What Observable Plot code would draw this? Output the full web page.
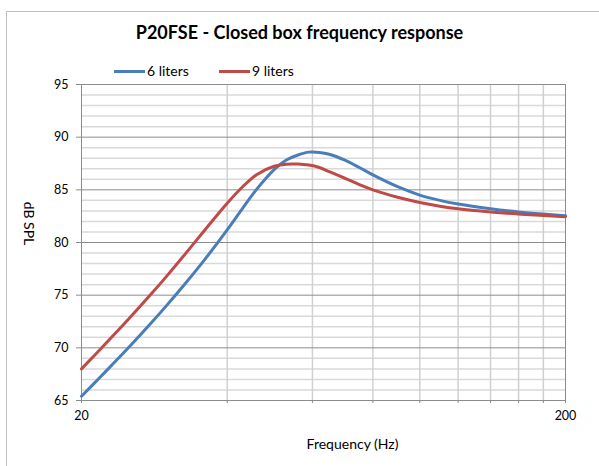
<!DOCTYPE html>
<html>
<head>
<meta charset="utf-8">
<script src="https://cdn.jsdelivr.net/npm/d3@7"></script>
<script src="https://cdn.jsdelivr.net/npm/@observablehq/plot@0.6"></script>
<style>
  html, body { margin: 0; padding: 0; background: #fff; }
  #wrap { position: relative; width: 599px; height: 466px; overflow: hidden; font-family: Lato, "Open Sans", sans-serif; }
  #border { position: absolute; left: 6px; top: 11px; width: 800px; height: 800px; border: 1px solid #bfbfbf; box-sizing: border-box; }
  #title { position: absolute; left: 0; width: 599px; top: 20px; text-align: center; font-weight: bold; font-size: 18px; line-height: 24px; color: #000; }
  .leg { position: absolute; top: 62px; font-size: 14px; line-height: 18px; color: #000; display: flex; align-items: center; }
  .leg span.sw { display: inline-block; width: 31px; height: 3px; margin-right: 2px; }
  #chart { position: absolute; left: 0; top: 0; }
</style>
</head>
<body>
<div id="wrap">
  <div id="border"></div>
  <div id="chart"></div>
  <div id="title">P20FSE - Closed box frequency response</div>
  <div class="leg" style="left:114px"><span class="sw" style="background:#4A7EBB"></span>6 liters</div>
  <div class="leg" style="left:219px"><span class="sw" style="background:#BE4B48"></span>9 liters</div>
</div>
<script>
const freqs = [20, 22, 25, 28, 30, 33, 36, 40, 43, 46, 50, 53, 56, 59, 62, 65, 70, 75, 80, 90, 100, 110, 120, 140, 160, 180, 200];
const liters6 = [65.4, 67.35, 70.0, 72.47, 74.03, 76.27, 78.42, 81.2, 83.22, 85.04, 86.92, 87.83, 88.31, 88.58, 88.55, 88.38, 87.82, 87.12, 86.42, 85.3, 84.5, 84.0, 83.65, 83.2, 82.9, 82.7, 82.55];
const liters9 = [68.0, 69.99, 72.71, 75.22, 76.81, 79.09, 81.21, 83.73, 85.27, 86.44, 87.24, 87.44, 87.45, 87.35, 87.12, 86.72, 86.1, 85.5, 85.0, 84.3, 83.8, 83.45, 83.2, 82.9, 82.7, 82.57, 82.45];
const seriesNames = ["6 liters", "9 liters"];
const seriesColors = ["#4A7EBB", "#BE4B48"];
const yMajor = [65, 70, 75, 80, 85, 90, 95];
const yMinor = d3.range(66, 95).filter(v => v % 5 !== 0);
const xGrid = [40, 60, 80, 100, 120, 140, 160, 180];
const xTicks = [20, 40, 60, 80, 100, 120, 140, 160, 180, 200];
const xLabels = [20, 200];

const data = [];
freqs.forEach((f, i) => {
  data.push({f, v: liters6[i], s: seriesNames[0]});
  data.push({f, v: liters9[i], s: seriesNames[1]});
});

const chart = Plot.plot({
  width: 599,
  height: 466,
  marginLeft: 81,
  marginRight: 34,
  marginTop: 84,
  marginBottom: 66,
  style: {fontFamily: "Lato, 'Open Sans', sans-serif", fontSize: "12.5px", color: "#000", background: "transparent"},
  x: {type: "log", domain: [20, 200]},
  y: {domain: [65, 95]},
  color: {domain: seriesNames, range: seriesColors},
  marks: [
    Plot.ruleY(yMinor, {stroke: "#d9d9d9", strokeWidth: 1.5}),
    Plot.ruleX(xGrid, {stroke: "#d0d0d0", strokeWidth: 1.5}),
    Plot.ruleY(yMajor, {stroke: "#8c8c8c", strokeWidth: 1}),
    Plot.ruleX([20, 200], {stroke: "#8c8c8c", strokeWidth: 1}),
    Plot.axisY({ticks: yMajor, tickSize: 5, tickPadding: 8, label: null, stroke: "#8c8c8c"}),
    Plot.axisX({ticks: xTicks, tickSize: 3, tickPadding: 8, label: null, stroke: "#8c8c8c",
      tickFormat: d => xLabels.includes(d) ? String(d) : ""}),
    Plot.line(data, {x: "f", y: "v", z: "s", stroke: "s", strokeWidth: 3, curve: "catmull-rom"}),
    Plot.text(["dB SPL"], {frameAnchor: "left", rotate: 90, textAnchor: "middle", dx: -53, dy: -19, fontSize: 14, fill: "#000"}),
    Plot.text(["Frequency (Hz)"], {frameAnchor: "bottom", textAnchor: "middle", dx: 29, dy: 48, fontSize: 14, fill: "#000"})
  ]
});
document.getElementById("chart").appendChild(chart);
</script>
</body>
</html>
